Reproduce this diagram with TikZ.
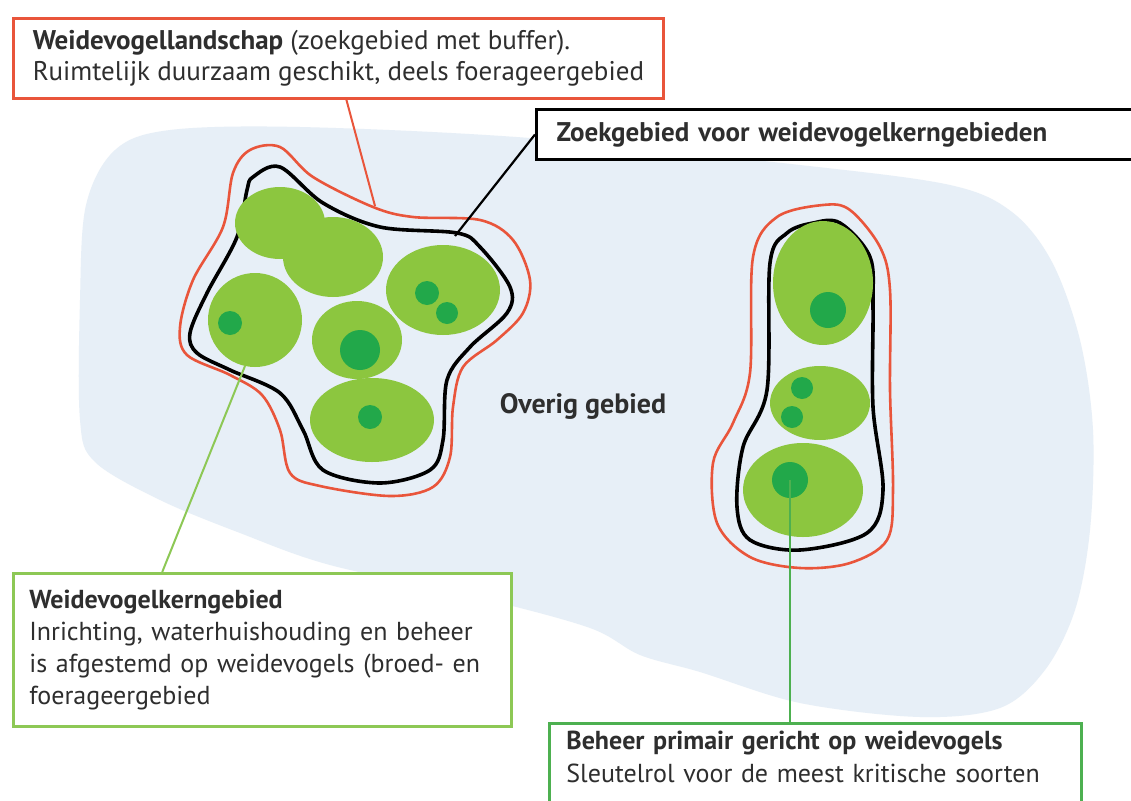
\documentclass[tikz,border=0pt]{standalone}
\usepackage{fontspec}
\setmainfont{PT Sans}
\usepackage{xcolor}
\usepackage{tikz}
\usetikzlibrary{calc}
\definecolor{areaBlue}{HTML}{E7EFF7}
\definecolor{bufferRed}{HTML}{E9553B}
\definecolor{patchGreen}{HTML}{8CC63F}
\definecolor{coreGreen}{HTML}{22A84A}
\definecolor{frameGreen}{HTML}{8DC855}
\definecolor{keyGreen}{HTML}{4DB050}
\definecolor{inkGrey}{HTML}{2E2E2E}
\tikzset{
    box_red/.style={
        rectangle, draw=bufferRed, line width=2.8pt, fill=white,
        anchor=north west, align=left,
        font=\fontsize{27}{31}\selectfont, text=inkGrey
    },
    box_black/.style={
        rectangle, draw=black, line width=3pt, fill=white,
        anchor=north west, align=left, inner xsep=20pt,
        font=\fontsize{27}{31}\selectfont\bfseries, text=inkGrey
    },
    box_green_light/.style={
        rectangle, draw=frameGreen, line width=2.8pt, fill=white,
        anchor=north west, align=left, inner xsep=16pt,
        font=\fontsize{26}{32}\selectfont, text=inkGrey
    },
    box_green/.style={
        rectangle, draw=keyGreen, line width=2.8pt, fill=white,
        anchor=north west, align=left, inner xsep=17pt, inner ysep=8pt,
        font=\fontsize{26}{33}\selectfont, text=inkGrey
    },
    blob_fill/.style={fill=areaBlue},
    edge_red/.style={draw=bufferRed, line width=2.6pt},
    edge_black/.style={draw=black, line width=3.6pt},
    patch/.style={fill=patchGreen},
    core/.style={fill=coreGreen},
    conn_red/.style={draw=bufferRed, line width=2pt},
    conn_black/.style={draw=black, line width=2.2pt},
    conn_green_light/.style={draw=frameGreen, line width=2pt},
    conn_green/.style={draw=keyGreen, line width=2pt},
    lbl/.style={font=\fontsize{28}{32}\selectfont\bfseries, text=inkGrey}
}

\begin{document}
\begin{tikzpicture}[x=1pt, y=-1pt]
    \useasboundingbox[fill=white] (0,0) rectangle (1131,800);

    % Overig gebied (light blue area)
    \fill[blob_fill] plot[smooth cycle, tension=0.55] coordinates {
        (80,300) (86,205) (115,150) (170,130) (300,127) (530,138) (800,165)
        (950,185) (1012,212) (1052,262) (1080,340) (1093,430) (1090,530)
        (1075,610) (1045,670) (1000,708) (920,717) (800,703) (700,672)
        (640,655) (590,628) (480,598) (330,565) (240,533) (160,500)
        (95,462) (80,420)};

    % Left cluster: buffer and search area
    \draw[edge_red] plot[smooth cycle, tension=0.55] coordinates {
        (250,150) (280,147) (313,177) (373,207) (413,217) (480,220) (513,240)
        (530,280) (523,313) (497,340) (463,367) (453,407) (450,457) (433,487)
        (390,496) (320,486) (290,473) (280,430) (262,395) (230,375) (187,355)
        (180,327) (193,280) (223,227) (233,173)};
    \draw[edge_black] plot[smooth cycle, tension=0.55] coordinates {
        (253,177) (280,167) (323,203) (380,227) (457,233) (480,247) (510,287)
        (507,313) (470,347) (447,380) (443,440) (430,470) (380,483) (323,470)
        (303,430) (280,393) (230,370) (197,353) (190,333) (207,293) (237,237)
        (247,190)};

    % Left cluster: weidevogel patches
    \fill[patch] (280,223) ellipse [x radius=45, y radius=36];
    \fill[patch] (333,257) ellipse [x radius=50, y radius=40];
    \fill[patch] (255,320) ellipse [x radius=47, y radius=47];
    \fill[patch] (443,290) ellipse [x radius=57, y radius=45];
    \fill[patch] (357,340) ellipse [x radius=45, y radius=39];
    \fill[patch] (372,420) ellipse [x radius=62, y radius=42];
    \fill[core] (230,323) circle [radius=12];
    \fill[core] (427,293) circle [radius=12];
    \fill[core] (447,313) circle [radius=11];
    \fill[core] (360,350) circle [radius=20];
    \fill[core] (370,417) circle [radius=12];

    % Right cluster: buffer and search area
    \draw[edge_red] plot[smooth cycle, tension=0.55] coordinates {
        (823,205) (850,210) (880,247) (890,290) (890,390) (893,490) (887,540)
        (850,563) (800,568) (750,557) (717,523) (713,463) (733,423) (750,373)
        (753,257) (777,217)};
    \draw[edge_black] plot[smooth cycle, tension=0.55] coordinates {
        (813,223) (840,223) (870,257) (873,307) (873,407) (883,490) (867,533)
        (800,550) (750,540) (737,507) (743,447) (767,390) (770,263) (787,233)};

    % Right cluster: weidevogel patches
    \fill[patch] (823,283) ellipse [x radius=50, y radius=62];
    \fill[patch] (820,403) ellipse [x radius=50, y radius=37];
    \fill[patch] (803,490) ellipse [x radius=60, y radius=47];
    \fill[core] (828,310) circle [radius=18];
    \fill[core] (802,388) circle [radius=11];
    \fill[core] (792,417) circle [radius=11];
    \fill[core] (790,480) circle [radius=18];

    \node[lbl] (overig) at (583,406) {Overig gebied};

    % Anchor points on the map
    \coordinate (bufferpt) at (375,206);
    \coordinate (zoekpt) at (455,236);
    \coordinate (kernpt) at (245,366);
    \coordinate (beheerpt) at (790,480);

    % Label boxes
    \node[box_red, minimum width=650, minimum height=80] (landschap) at (12,17)
        {\textbf{Weidevogellandschap} (zoekgebied met buffer).\\Ruimtelijk duurzaam geschikt, deels foerageergebied};
    \node[box_black, minimum height=50, text width=600] (zoek) at (535,108)
        {Zoekgebied voor weidevogelkerngebieden};
    \node[box_green_light, minimum width=498, minimum height=153, text width=466] (kern) at (12,572)
        {\textbf{Weidevogelkerngebied}\\Inrichting, waterhuishouding en beheer\\is afgestemd op weidevogels (broed- en\\foerageergebied};
    % box runs on past the lower edge of the page
    \node[box_green, text width=498] (beheer) at (548,722)
        {\textbf{Beheer primair gericht op weidevogels}\\Sleutelrol voor de meest kritische soorten\\\mbox{}};

    % Connectors
    \draw[conn_red] ([xshift=8pt]landschap.south) -- (bufferpt);
    \draw[conn_black] (zoek.west) -- (zoekpt);
    \draw[conn_green_light] ($(kern.north west)!0.3!(kern.north east)$) -- (kernpt);
    \draw[conn_green] (beheerpt) -- (beheerpt |- beheer.north);
\end{tikzpicture}
\end{document}
